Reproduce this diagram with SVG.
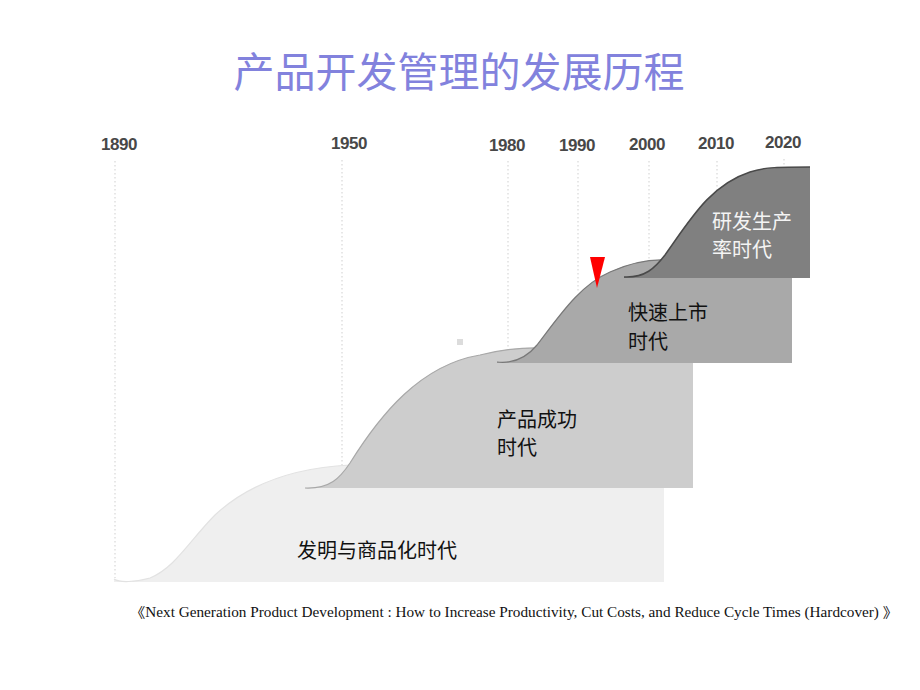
<svg xmlns="http://www.w3.org/2000/svg" width="920" height="690" viewBox="0 0 920 690">
<style>
.yr{font-family:"Liberation Sans",Arial,sans-serif;font-weight:bold;font-size:17px;fill:#484848;text-anchor:middle;letter-spacing:-0.4px}
.grid{stroke:#cfcfcf;stroke-width:1;stroke-dasharray:1.5 2.5;fill:none}
.lbl{font-family:"Noto Sans CJK SC","Noto Sans CJK JP",sans-serif;font-size:20px;fill:#111}
</style>
<rect width="920" height="690" fill="#ffffff"/>
<text x="459" y="87" font-family="Noto Sans CJK SC, Noto Sans CJK JP, sans-serif" font-size="41" fill="#8282dd" text-anchor="middle">产品开发管理的发展历程</text>
<g id="years">
<text class="yr" x="119" y="150">1890</text>
<text class="yr" x="349" y="149">1950</text>
<text class="yr" x="507" y="151">1980</text>
<text class="yr" x="577" y="151">1990</text>
<text class="yr" x="647" y="150">2000</text>
<text class="yr" x="716" y="149">2010</text>
<text class="yr" x="783" y="148">2020</text>
</g>
<g id="gridlines">
<line class="grid" x1="115" y1="161" x2="115" y2="578"/>
<line class="grid" x1="342" y1="160" x2="342" y2="470"/>
<line class="grid" x1="508" y1="161" x2="508" y2="356"/>
<line class="grid" x1="578" y1="161" x2="578" y2="292"/>
<line class="grid" x1="649" y1="161" x2="649" y2="264"/>
<line class="grid" x1="717" y1="161" x2="717" y2="200"/>
<line class="grid" x1="784" y1="159" x2="784" y2="168"/>
</g>
<rect x="457" y="339" width="6" height="6" fill="#dcdcdc"/>
<g id="era1">
<path d="M114,579 C120,583 135,582 150,578 C175,568 190,540 215,515 C245,487 290,468 350,465 L664,465 L664,582 L114,582 Z" fill="#efefef"/>
<path d="M114,579 C120,583 135,582 150,578 C175,568 190,540 215,515 C245,487 290,468 350,465" fill="none" stroke="#e2e2e2" stroke-width="1.2"/>
<text class="lbl" x="297" y="558">发明与商品化时代</text>
</g>
<g id="era2">
<path d="M305,488 C330,489 340,478 350,463 C380,415 420,365 480,355 C500,350 520,347 545,348 L693,348 L693,488 Z" fill="#cdcdcd"/>
<path d="M305,488 C330,489 340,478 350,463 C380,415 420,365 480,355 C500,350 520,347 545,348" fill="none" stroke="#a8a8a8" stroke-width="1.2"/>
<text class="lbl" x="497" y="427">产品成功</text>
<text class="lbl" x="497" y="455">时代</text>
</g>
<g id="era3">
<path d="M497,362 C515,364 528,356 537,345 C560,315 580,285 610,272 C630,263 650,259 667,260 L792,260 L792,363 L497,363 Z" fill="#a9a9a9"/>
<path d="M497,362 C515,364 528,356 537,345 C560,315 580,285 610,272 C630,263 650,259 667,260" fill="none" stroke="#787878" stroke-width="1.2"/>
<text class="lbl" x="628" y="320">快速上市</text>
<text class="lbl" x="628" y="349">时代</text>
</g>
<g id="era4">
<path d="M624,277 C645,278 655,268 665,255 C690,220 710,185 750,172 C765,167 780,167 810,167 L810,278 L624,278 Z" fill="#808080"/>
<path d="M624,277 C645,278 655,268 665,255 C690,220 710,185 750,172 C765,167 780,167 810,167" fill="none" stroke="#4a4a4a" stroke-width="1.5"/>
<text class="lbl" x="712" y="229" style="fill:#f4f4f4">研发生产</text>
<text class="lbl" x="712" y="257" style="fill:#f4f4f4">率时代</text>
</g>
<polygon id="marker" points="590,257 605,257 597,288" fill="#ff0000"/>
<text x="130" y="617" font-family="Liberation Serif, Times New Roman, Noto Sans CJK SC, serif" font-size="14" fill="#111" textLength="768" lengthAdjust="spacingAndGlyphs">《Next Generation Product Development : How to Increase Productivity, Cut Costs, and Reduce Cycle Times (Hardcover) 》</text>
</svg>
